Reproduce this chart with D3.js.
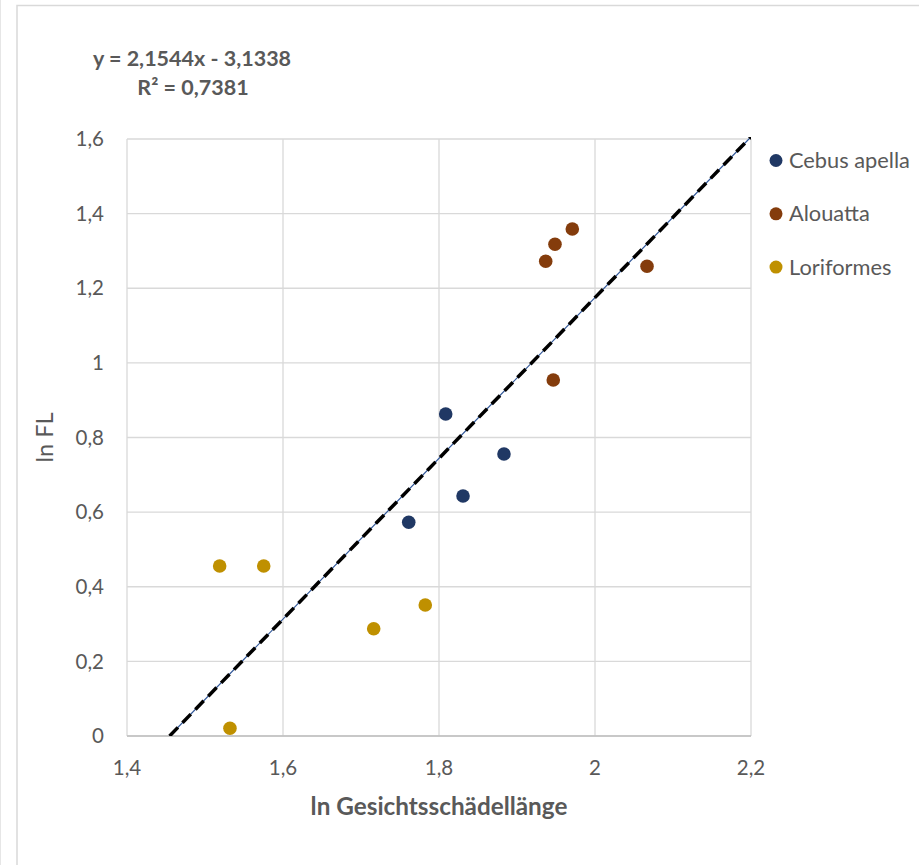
<!DOCTYPE html>
<html>
<head>
<meta charset="utf-8">
<script src="https://cdn.jsdelivr.net/npm/d3@7"></script>
<style>
  html, body { margin: 0; padding: 0; background: #fff; }
  svg { display: block; font-family: Lato, "Open Sans", sans-serif; }
</style>
</head>
<body>
<svg id="chart" width="919" height="865"></svg>
<script>
// Log-transformed measurements per group
const seriesNames = ["Cebus apella", "Alouatta", "Loriformes"];
const seriesColors = ["#203864", "#843c0c", "#bf9000"];
const cebusX = [1.8086, 1.7612, 1.8308, 1.8833];
const cebusY = [0.863, 0.5728, 0.6433, 0.7558];
const alouattaX = [1.9709, 1.9487, 1.9368, 2.0667, 1.9465];
const alouattaY = [1.3589, 1.3179, 1.2723, 1.2589, 0.9542];
const loriX = [1.5188, 1.5753, 1.532, 1.7163, 1.7824];
const loriY = [0.4556, 0.4556, 0.0206, 0.2876, 0.3511];
const xTicks = [1.4, 1.6, 1.8, 2.0, 2.2];
const yTicks = [0, 0.2, 0.4, 0.6, 0.8, 1.0, 1.2, 1.4, 1.6];
const slope = 2.1544, intercept = -3.1338, r2 = 0.7381;

const fmt = v => String(+v.toFixed(1)).replace(".", ",");

const svg = d3.select("#chart");
const margin = { left: 127, right: 168, top: 139, bottom: 129 };
const W = 919, H = 865;
const x = d3.scaleLinear().domain([1.4, 2.2]).range([margin.left, W - margin.right]);
const y = d3.scaleLinear().domain([0, 1.6]).range([H - margin.bottom, margin.top]);

// chart area frame
svg.append("line").attr("x1", 0.5).attr("x2", 0.5).attr("y1", 0).attr("y2", H)
  .attr("stroke", "#e6e6e6").attr("stroke-width", 1);
svg.append("path").attr("d", `M17,${H} V5.5 H${W}`)
  .attr("fill", "none").attr("stroke", "#d9d9d9").attr("stroke-width", 1.5);

// gridlines
const grid = svg.append("g");
grid.selectAll("line.h").data(yTicks).join("line")
  .attr("x1", x(1.4)).attr("x2", x(2.2))
  .attr("y1", d => y(d)).attr("y2", d => y(d))
  .attr("stroke", "#d9d9d9").attr("stroke-width", 1.3);
grid.selectAll("line.v").data(xTicks).join("line")
  .attr("y1", y(0)).attr("y2", y(1.6))
  .attr("x1", d => x(d)).attr("x2", d => x(d))
  .attr("stroke", "#d9d9d9").attr("stroke-width", 1.3);
// horizontal axis line
svg.append("line").attr("x1", x(1.4)).attr("x2", x(2.2)).attr("y1", y(0)).attr("y2", y(0))
  .attr("stroke", "#bfbfbf").attr("stroke-width", 1.3);

// tick labels
svg.append("g").selectAll("text").data(yTicks).join("text")
  .attr("x", 104).attr("y", d => y(d)).attr("dy", "0.35em")
  .attr("text-anchor", "end").attr("fill", "#595959").attr("font-size", 20.5)
  .text(fmt);
svg.append("g").selectAll("text").data(xTicks).join("text")
  .attr("x", d => x(d)).attr("y", 768).attr("dy", "0.35em")
  .attr("text-anchor", "middle").attr("fill", "#595959").attr("font-size", 20.5)
  .text(fmt);

// axis titles
svg.append("text").attr("x", x(1.8)).attr("y", 806).attr("dy", "0.35em")
  .attr("text-anchor", "middle").attr("font-weight", "bold").attr("fill", "#595959")
  .attr("font-size", 24.3).text("ln Gesichtsschädellänge");
svg.append("text").attr("transform", `translate(45,${y(0.8)}) rotate(-90)`)
  .attr("dy", "0.35em").attr("text-anchor", "middle").attr("fill", "#595959")
  .attr("font-size", 23.5).text("ln FL");

// linear trendline, clipped to plot area
svg.append("clipPath").attr("id", "plot-clip").append("rect")
  .attr("x", x(1.4)).attr("y", y(1.6) - 2).attr("width", x(2.2) - x(1.4)).attr("height", y(0) - y(1.6) + 2);
const x0 = -intercept / slope;
const x1 = 2.2;
const trend = svg.append("g").attr("clip-path", "url(#plot-clip)");
trend.append("line")
  .attr("x1", x(x0)).attr("y1", y(slope * x0 + intercept))
  .attr("x2", x(x1)).attr("y2", y(slope * x1 + intercept))
  .attr("stroke", "#2f5597").attr("stroke-width", 1.2);
trend.append("line")
  .attr("x1", x(x0)).attr("y1", y(slope * x0 + intercept))
  .attr("x2", x(x1)).attr("y2", y(slope * x1 + intercept))
  .attr("stroke", "#000").attr("stroke-width", 3.5)
  .attr("stroke-dasharray", "12,6.5");

// scatter points
const groups = [
  { name: seriesNames[0], color: seriesColors[0], xs: cebusX, ys: cebusY },
  { name: seriesNames[1], color: seriesColors[1], xs: alouattaX, ys: alouattaY },
  { name: seriesNames[2], color: seriesColors[2], xs: loriX, ys: loriY }
];
groups.forEach(g => {
  svg.append("g").selectAll("circle").data(g.xs.map((v, i) => [v, g.ys[i]])).join("circle")
    .attr("cx", d => x(d[0])).attr("cy", d => y(d[1])).attr("r", 6.8)
    .attr("fill", g.color);
});

// trendline label
const eq = svg.append("text").attr("font-weight", "bold").attr("fill", "#595959").attr("font-size", 21.5)
  .attr("text-anchor", "middle");
eq.append("tspan").attr("x", 192).attr("y", 66)
  .text(`y = ${String(slope).replace(".", ",")}x - ${String(-intercept).replace(".", ",")}`);
eq.append("tspan").attr("x", 193).attr("y", 95)
  .text(`R² = ${String(r2).replace(".", ",")}`);

// legend
const legend = svg.append("g").selectAll("g").data(groups).join("g")
  .attr("transform", (d, i) => `translate(776,${160.5 + i * 53.3})`);
legend.append("circle").attr("r", 6.5).attr("fill", d => d.color);
legend.append("text").attr("x", 13).attr("dy", "0.35em").attr("fill", "#595959")
  .attr("font-size", 21.8).text(d => d.name);
</script>
</body>
</html>
